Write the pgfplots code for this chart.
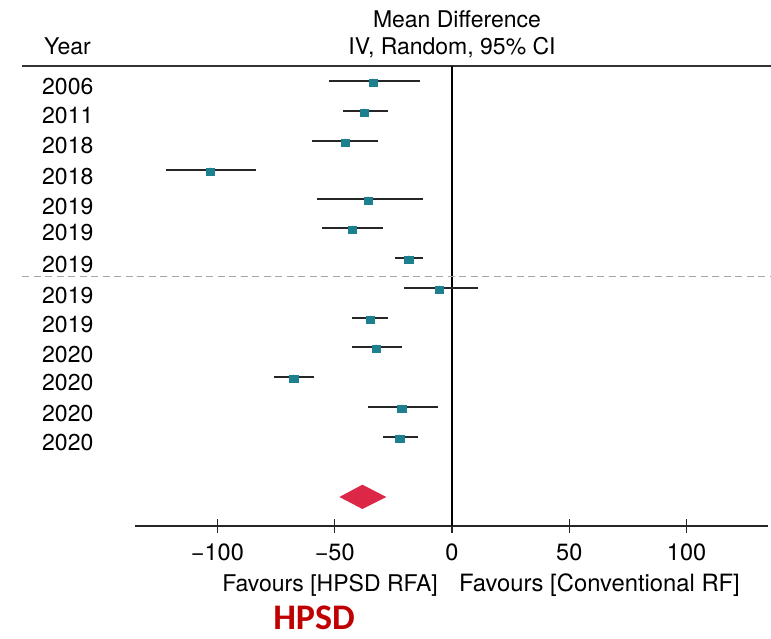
\documentclass[border=0pt]{standalone}
\usepackage{fontspec}
\setmainfont{TeX Gyre Heros}
\newfontfamily\calibri{Carlito}
\usepackage{pgfplots}
\pgfplotsset{compat=1.18}
\usepackage{pgfplotstable}

\definecolor{sqcol}{RGB}{28,128,143}
\definecolor{diacol}{RGB}{220,40,70}
\definecolor{hpsdcol}{RGB}{192,0,0}

% study rows: vertical position, lower CI, mean difference, upper CI
\pgfplotstableread{
pos   lo      pt      hi
-81   -52.4   -33.7   -13.8
-111  -46.6   -37.4   -27.4
-141  -59.8   -45.6   -31.4
-170  -122.0  -103.0  -83.5
-199  -57.7   -35.8   -12.5
-228  -55.5   -42.5   -29.5
-258  -24.2   -18.5   -12.5
-288  -20.6   -5.4    11.2
-318  -42.5   -34.8   -27.1
-347  -42.5   -32.4   -21.4
-377  -75.9   -67.5   -58.8
-407  -35.8   -21.4   -6.0
-437  -29.3   -22.3   -14.5
}\studies

\newcommand{\lbl}{\fontsize{23}{27}\selectfont}

\begin{document}
\begin{tikzpicture}
\begin{axis}[
  x=2.346pt, y=1pt,
  xmin=-135, xmax=134.7,
  ymin=-526, ymax=-66,
  axis line style={draw=none},
  xtick pos=lower,
  xtick={-100,-50,0,50,100},
  xticklabels={−100,−50,0,50,100},
  xtick align=center,
  major tick length=14pt,
  tick style={line width=1.4pt, black!85},
  xticklabel style={font=\fontsize{23.5}{27}\selectfont, anchor=base, inner sep=0pt, yshift=-28pt},
  ytick=\empty,
  clip=false,
]
  % corners of the drawing area
  \coordinate (BL) at (axis cs:-192.67,-639);
  \coordinate (TR) at (axis cs:135.98,0);

  % scale line, header rule, line of no effect, subgroup separator
  \draw[line width=1.6pt, black!85] (axis cs:-135,-526) -- (axis cs:134.7,-526);
  \draw[line width=2pt, black!80] (axis cs:-183.29,-66) -- (axis cs:135.98,-66);
  \draw[line width=1.6pt, black] (axis cs:0,-66) -- (axis cs:0,-526);
  \draw[line width=1.4pt, black!35, dash pattern=on 7pt off 4.5pt] (axis cs:-183.29,-276.5) -- (axis cs:135.98,-276.5);

  % confidence intervals
  \addplot[only marks, mark=none,
    error bars/.cd, x dir=both, x explicit, error mark=none,
    error bar style={draw=black!85, line width=2.2pt, solid}]
    table[x=pt, y=pos,
      x error minus expr=\thisrow{pt}-\thisrow{lo},
      x error plus expr=\thisrow{hi}-\thisrow{pt}] {\studies};

  % point estimates
  \addplot[only marks, mark=square*, mark size=4pt, color=sqcol,
    mark options={yshift=-2pt, yscale=0.85, xscale=1.05}]
    table[x=pt, y=pos] {\studies};

  % pooled estimate
  \addplot[fill=diacol, draw=none] coordinates
    {(-48,-497) (-38.2,-484.7) (-28,-497) (-38.2,-509)} -- cycle;

  % header texts
  \node[anchor=base west, inner sep=0pt, font=\lbl] at (axis cs:-173.9,-55) {Year};
  \node[anchor=base, inner sep=0pt, font=\lbl] at (axis cs:2.13,-28) {Mean Difference};
  \node[anchor=base, inner sep=0pt, font=\lbl] at (axis cs:0,-55) {IV, Random, 95\% CI};

  % study years
  \node[anchor=base west, inner sep=0pt, font=\lbl] at (axis cs:-174.77,-95)  {2006};
  \node[anchor=base west, inner sep=0pt, font=\lbl] at (axis cs:-174.77,-124) {2011};
  \node[anchor=base west, inner sep=0pt, font=\lbl] at (axis cs:-174.77,-154) {2018};
  \node[anchor=base west, inner sep=0pt, font=\lbl] at (axis cs:-174.77,-185) {2018};
  \node[anchor=base west, inner sep=0pt, font=\lbl] at (axis cs:-174.77,-215) {2019};
  \node[anchor=base west, inner sep=0pt, font=\lbl] at (axis cs:-174.77,-241) {2019};
  \node[anchor=base west, inner sep=0pt, font=\lbl] at (axis cs:-174.77,-273) {2019};
  \node[anchor=base west, inner sep=0pt, font=\lbl] at (axis cs:-174.77,-304) {2019};
  \node[anchor=base west, inner sep=0pt, font=\lbl] at (axis cs:-174.77,-333) {2019};
  \node[anchor=base west, inner sep=0pt, font=\lbl] at (axis cs:-174.77,-363) {2020};
  \node[anchor=base west, inner sep=0pt, font=\lbl] at (axis cs:-174.77,-391) {2020};
  \node[anchor=base west, inner sep=0pt, font=\lbl] at (axis cs:-174.77,-422) {2020};
  \node[anchor=base west, inner sep=0pt, font=\lbl] at (axis cs:-174.77,-451) {2020};

  % favours labels
  \node[anchor=base east, inner sep=0pt, font=\lbl] at (axis cs:-5.97,-592) {Favours [HPSD RFA]};
  \node[anchor=base west, inner sep=0pt, font=\fontsize{23.8}{27}\selectfont] at (axis cs:2.98,-592) {Favours [Conventional RF]};

  \node[anchor=base, inner sep=0pt, font=\calibri\bfseries\fontsize{36}{40}\selectfont, text=hpsdcol]
    at (axis cs:-58.8,-630) {HPSD};
\end{axis}
\pgfresetboundingbox
\useasboundingbox (BL) rectangle (TR);
\end{tikzpicture}
\end{document}
